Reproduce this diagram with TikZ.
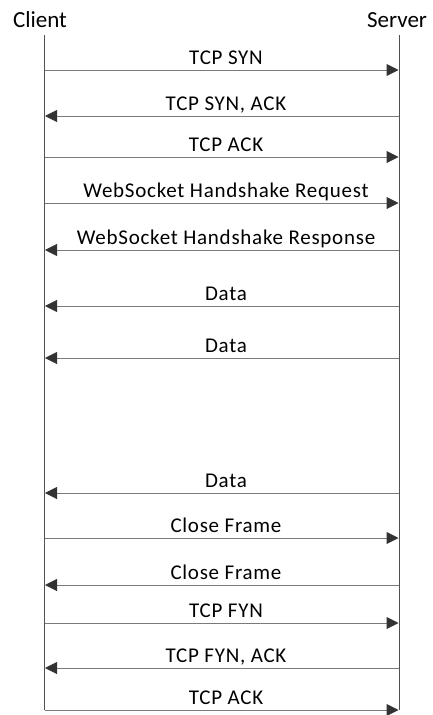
\documentclass[tikz,border=0pt]{standalone}
\usepackage{fontspec}
\setmainfont{Carlito}
\newfontfamily\lblfont[LetterSpace=3.5]{Carlito}
\usetikzlibrary{arrows.meta}
\definecolor{lifegray}{HTML}{505050}
\definecolor{msggray}{HTML}{7A7A7A}
\definecolor{headgray}{HTML}{333333}
\begin{document}
\begin{tikzpicture}[x=1pt,y=-1pt,
  lifeline/.style={draw=lifegray,line width=1pt},
  msg/.style={draw=msggray,line width=1pt,-{Triangle[length=12pt,width=12pt,fill=headgray,color=headgray]},shorten >=0.5pt},
  lbl/.style={font=\lblfont\fontsize{21}{24}\selectfont,anchor=base,inner sep=0pt},
  hdr/.style={font=\fontsize{23}{26}\selectfont,anchor=base,inner sep=0pt}]
\useasboundingbox (0,0) rectangle (432,715);
\node[hdr] (client) at (40,27) {Client};
\node[hdr] (server) at (397,27) {Server};
\coordinate (ct) at (44.5,35);
\coordinate (st) at (399,35);
\coordinate (cb) at (44.5,710);
\coordinate (sb) at (399,710);
\draw[lifeline] (ct) -- (cb);
\draw[lifeline] (st) -- (sb);
% messages: y, direction, label
\foreach \y/\d/\t in {70/r/TCP SYN,116/l/{TCP SYN, ACK},157/r/TCP ACK,203/r/WebSocket Handshake Request,250/l/WebSocket Handshake Response,306/l/Data,358/l/Data,493/l/Data,538/r/Close Frame,585/l/Close Frame,623/r/TCP FYN,668/l/{TCP FYN, ACK},710/r/TCP ACK}{
  \coordinate (c\y) at (44.5,\y);
  \coordinate (s\y) at (399,\y);
  \if\d r
    \draw[msg] (c\y) -- (s\y);
  \else
    \draw[msg] (s\y) -- (c\y);
  \fi
  \node[lbl] (l\y) at (226,\y-6) {\t};
}
\end{tikzpicture}
\end{document}
